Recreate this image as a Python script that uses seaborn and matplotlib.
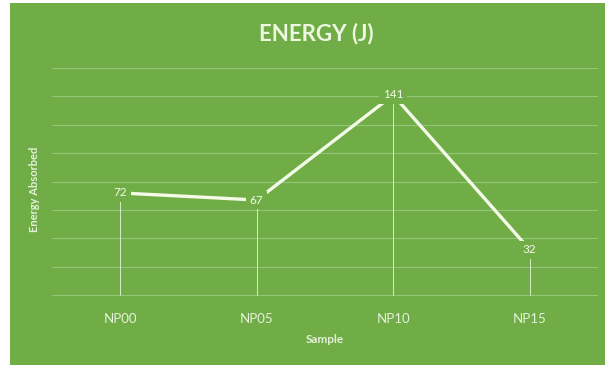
import pandas as pd
import matplotlib.pyplot as plt
import seaborn as sns
from matplotlib.patches import Rectangle

# datos del grafico
muestras = ['NP00', 'NP05', 'NP10', 'NP15']
energia = [72, 67, 141, 32]

verde = '#70AD47'
claro = '#f3fae8'

sns.set_style('white')
plt.rcParams['font.family'] = ['Lato', 'DejaVu Sans']

df = pd.DataFrame({'Sample': muestras, 'Energy': energia})

fig = plt.figure(figsize=(6.05, 3.65), dpi=100)
fig.patch.set_facecolor('white')
fig.patches.append(Rectangle((10 / 605, 0), 595 / 605, 362 / 365,
                             transform=fig.transFigure, facecolor=verde,
                             edgecolor='none', zorder=-5))

ax = fig.add_axes([52 / 605, 69 / 365, 546 / 605, 228 / 365])
ax.set_facecolor('none')

# lineas verticales hasta el eje
ax.vlines(range(len(muestras)), 0, df['Energy'], color=claro, lw=0.7, alpha=0.8, zorder=2)

sns.lineplot(data=df, x='Sample', y='Energy', ax=ax, color=claro,
             linewidth=2.4, sort=False, zorder=3)

for i, v in enumerate(energia):
    ax.text(i, v, str(v), ha='center', va='center', fontsize=8.5, color=claro,
            zorder=4, bbox=dict(boxstyle='square,pad=0.3', facecolor=verde, edgecolor='none'))

ax.set_ylim(-0.6, 160)
ax.set_xlim(-0.5, 3.5)
ax.set_yticks(range(0, 161, 20))
ax.set_yticklabels([])
ax.yaxis.grid(True, color='#95c678', lw=0.8)
ax.tick_params(axis='y', length=0)
ax.tick_params(axis='x', length=0, labelsize=9.5, colors='#e4f1da', pad=12)
for s in ax.spines.values():
    s.set_visible(False)

ax.set_xlabel('Sample', fontsize=8.5, fontweight='bold', color='#e4f1da')
ax.xaxis.set_label_coords(0.5, -0.165)
ax.set_ylabel('Energy Absorbed', fontsize=8, fontweight='bold', color='#e4f1da')
ax.yaxis.set_label_coords(-0.022, 0.47)

fig.text(316 / 605, 1 - 34 / 365, 'ENERGY (J)', ha='center', va='center',
         fontsize=16, fontweight='bold', color='#eef7e2')

plt.savefig('out.png', dpi=100)
